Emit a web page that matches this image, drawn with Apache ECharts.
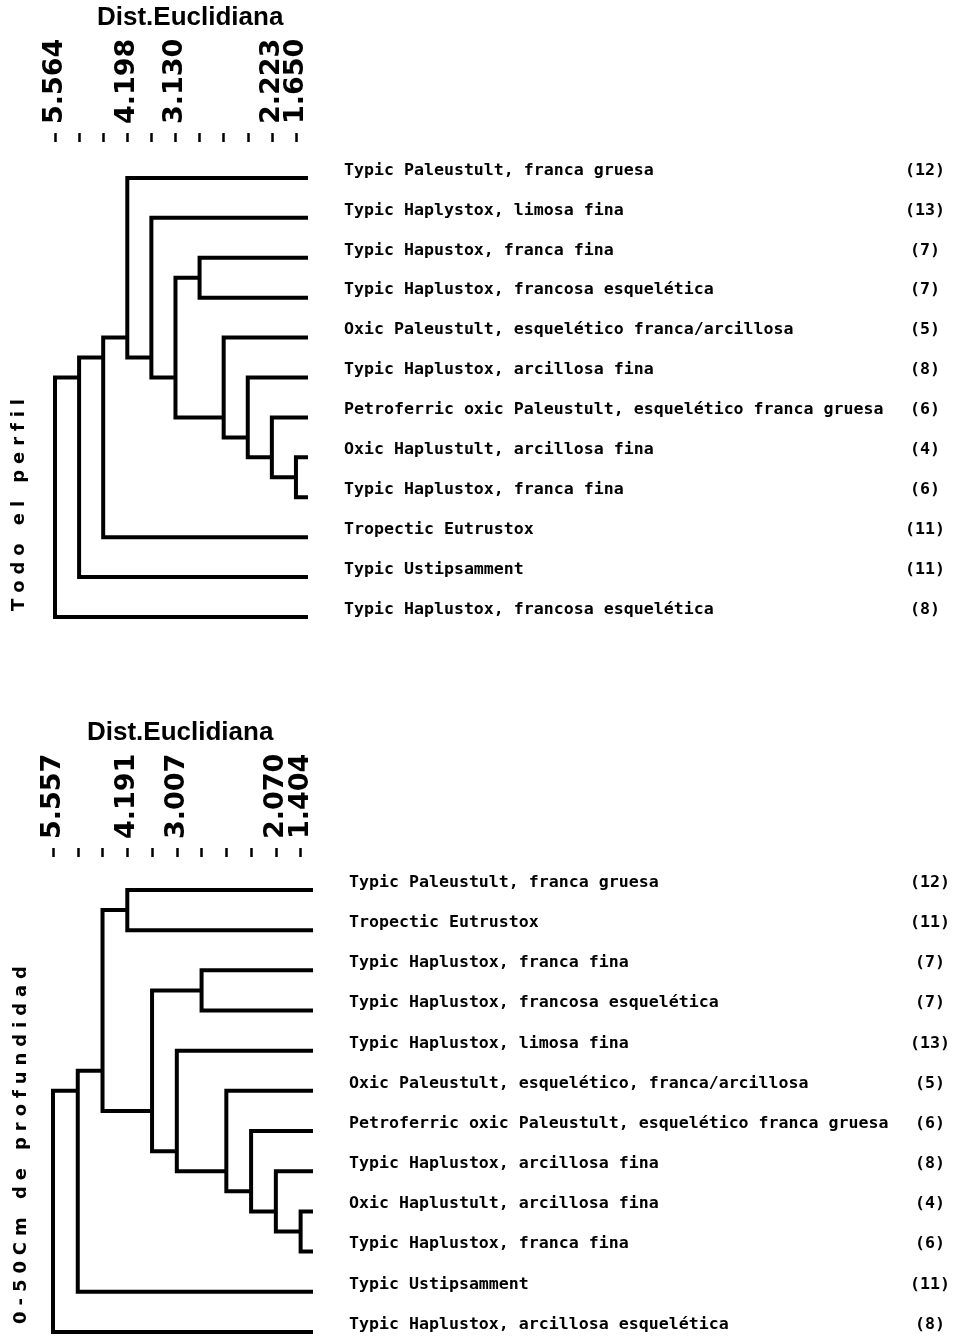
<!DOCTYPE html>
<html>
<head>
<meta charset="utf-8">
<script src="https://cdn.jsdelivr.net/npm/echarts@6/dist/echarts.min.js"></script>
<style>
html, body { margin: 0; padding: 0; background: #fff; }
#chart { width: 955px; height: 1337px; }
</style>
</head>
<body>
<div id="chart"></div>
<script>
// --- Todo el perfil ---
var perfilNames = [
    'Typic Paleustult, franca gruesa',
    'Typic Haplystox, limosa fina',
    'Typic Hapustox, franca fina',
    'Typic Haplustox, francosa esquelética',
    'Oxic Paleustult, esquelético franca/arcillosa',
    'Typic Haplustox, arcillosa fina',
    'Petroferric oxic Paleustult, esquelético franca gruesa',
    'Oxic Haplustult, arcillosa fina',
    'Typic Haplustox, franca fina',
    'Tropectic Eutrustox',
    'Typic Ustipsamment',
    'Typic Haplustox, francosa esquelética'
];
var perfilCounts = ['(12)', '(13)', '(7)', '(7)', '(5)', '(8)', '(6)', '(4)', '(6)', '(11)', '(11)', '(8)'];
var perfilTicks = ['5.564', '', '', '4.198', '', '3.130', '', '', '', '2.223', '1.650'];
// [hijo a, hijo b, nivel]; numero = hoja, 'cN' = grupo formado en la fila N
var perfilMerges = [
    [7, 8, 10], [6, 'c0', 9], [5, 'c1', 8], [4, 'c2', 7], [2, 3, 6], ['c4', 'c3', 5],
    [1, 'c5', 4], [0, 'c6', 3], ['c7', 9, 2], ['c8', 10, 1], ['c9', 11, 0]
];

// --- 0-50 cm de profundidad ---
var profNames = [
    'Typic Paleustult, franca gruesa',
    'Tropectic Eutrustox',
    'Typic Haplustox, franca fina',
    'Typic Haplustox, francosa esquelética',
    'Typic Haplustox, limosa fina',
    'Oxic Paleustult, esquelético, franca/arcillosa',
    'Petroferric oxic Paleustult, esquelético franca gruesa',
    'Typic Haplustox, arcillosa fina',
    'Oxic Haplustult, arcillosa fina',
    'Typic Haplustox, franca fina',
    'Typic Ustipsamment',
    'Typic Haplustox, arcillosa esquelética'
];
var profCounts = ['(12)', '(11)', '(7)', '(7)', '(13)', '(5)', '(6)', '(8)', '(4)', '(6)', '(11)', '(8)'];
var profTicks = ['5.557', '', '', '4.191', '', '3.007', '', '', '', '2.070', '1.404'];
var profMerges = [
    [8, 9, 10], [7, 'c0', 9], [6, 'c1', 8], [5, 'c2', 7], [4, 'c3', 5], [2, 3, 6],
    ['c5', 'c4', 4], [0, 1, 3], ['c7', 'c6', 2], ['c8', 10, 1], ['c9', 11, 0]
];

var sideTitles = ['Todo el perfil', '0-50Cm de profundidad'];
var LEAF_LEVEL = 10.5;

function buildBrackets(merges) {
    var nodes = [];
    return merges.map(function (m, i) {
        var kids = [m[0], m[1]].map(function (k) {
            if (typeof k === 'number') return { x: LEAF_LEVEL, y: k, leaves: [k] };
            return nodes[+k.slice(1)];
        });
        var leaves = kids[0].leaves.concat(kids[1].leaves);
        var y = leaves.reduce(function (s, v) { return s + v; }, 0) / leaves.length;
        nodes[i] = { x: m[2], y: y, leaves: leaves };
        return [kids[0].x, kids[0].y, m[2], kids[1].x, kids[1].y];
    });
}

function range(n) {
    var a = [];
    for (var i = 0; i < n; i++) a.push(i);
    return a;
}

function spaced(s) {
    return s.split('').join('\u2004');
}

var monoFont = 'DejaVu Sans Mono';

// two top axes per grid so the last two close labels are not dropped as overlapping
function makeXAxes(g, ticks) {
    var all = range(ticks.length);
    var last = all.pop();
    var base = {
        gridIndex: g, type: 'value', position: 'top', min: 0, max: LEAF_LEVEL,
        axisLine: { show: false, onZero: false }, splitLine: { show: false }
    };
    var label = {
        formatter: function (v) { return ticks[v] || ''; },
        rotate: -90, margin: 18, color: '#000', hideOverlap: false,
        fontFamily: 'DejaVu Sans', fontWeight: 'bold', fontSize: 27
    };
    var a = echarts.util.merge({
        axisTick: { show: true, customValues: range(ticks.length), length: 9, lineStyle: { color: '#000', width: 2.5 } },
        axisLabel: echarts.util.merge({ customValues: all }, label)
    }, base, true);
    var b = echarts.util.merge({
        axisTick: { show: false },
        axisLabel: echarts.util.merge({ customValues: [last] }, label)
    }, base, true);
    return [a, b];
}

function makeYAxes(g, names, counts, yMin, yMax) {
    var yBase = {
        gridIndex: g, type: 'value', inverse: true, min: yMin, max: yMax, position: 'right',
        axisLine: { show: false, onZero: false }, axisTick: { show: false }, splitLine: { show: false }
    };
    var yNames = echarts.util.merge({
        axisLabel: {
            customValues: range(names.length),
            formatter: function (v) { return names[v]; },
            margin: 36, align: 'left', verticalAlign: 'bottom', lineHeight: 15,
            hideOverlap: false,
            color: '#000', fontFamily: monoFont, fontWeight: 'bold', fontSize: 16.6
        }
    }, yBase, true);
    var yCounts = echarts.util.merge({
        axisLabel: {
            customValues: range(counts.length),
            formatter: function (v) { return counts[v]; },
            margin: 617, align: 'center', verticalAlign: 'bottom', lineHeight: 15,
            hideOverlap: false,
            color: '#000', fontFamily: monoFont, fontWeight: 'bold', fontSize: 16.6
        }
    }, yBase, true);
    return [yNames, yCounts];
}

function bracketSeries(g, merges) {
    return {
        type: 'custom',
        xAxisIndex: g * 2, yAxisIndex: g * 2,
        encode: { x: [0, 2, 3], y: [1, 4] },
        silent: true,
        clip: false,
        data: buildBrackets(merges),
        renderItem: function (params, api) {
            var a = api.coord([api.value(0), api.value(1)]);
            var p1 = api.coord([api.value(2), api.value(1)]);
            var p2 = api.coord([api.value(2), api.value(4)]);
            var b = api.coord([api.value(3), api.value(4)]);
            return {
                type: 'polyline',
                shape: { points: [a, p1, p2, b] },
                style: { stroke: '#000', lineWidth: 4, fill: null, lineJoin: 'miter' }
            };
        }
    };
}

var myChart = echarts.init(document.getElementById('chart'), null, { renderer: 'canvas' });
var option = {
    backgroundColor: '#fff',
    animation: false,
    title: [
        { text: 'Dist.Euclidiana', left: 97, top: 5, padding: 0,
          textStyle: { fontFamily: 'Liberation Sans', fontWeight: 'bold', fontSize: 26, color: '#000' } },
        { text: 'Dist.Euclidiana', left: 87, top: 720, padding: 0,
          textStyle: { fontFamily: 'Liberation Sans', fontWeight: 'bold', fontSize: 26, color: '#000' } }
    ],
    grid: [
        { left: 55, right: 955 - 308, top: 142, height: 495, containLabel: false, outerBoundsMode: 'none' },
        { left: 53, right: 955 - 313, top: 857, height: 479, containLabel: false, outerBoundsMode: 'none' }
    ],
    xAxis: makeXAxes(0, perfilTicks).concat(makeXAxes(1, profTicks)),
    yAxis: makeYAxes(0, perfilNames, perfilCounts, -0.9, 11.5).concat(makeYAxes(1, profNames, profCounts, -0.82, 11.1)),
    graphic: [
        { type: 'text', x: 19, y: 505, rotation: Math.PI / 2,
          style: { text: spaced(sideTitles[0]), align: 'center', verticalAlign: 'middle',
                   font: 'bold 18px "DejaVu Sans"', fill: '#000' } },
        { type: 'text', x: 21, y: 1145, rotation: Math.PI / 2,
          style: { text: spaced(sideTitles[1]), align: 'center', verticalAlign: 'middle',
                   font: 'bold 18px "DejaVu Sans"', fill: '#000' } }
    ],
    series: [bracketSeries(0, perfilMerges), bracketSeries(1, profMerges)]
};
myChart.setOption(option);
</script>
</body>
</html>
